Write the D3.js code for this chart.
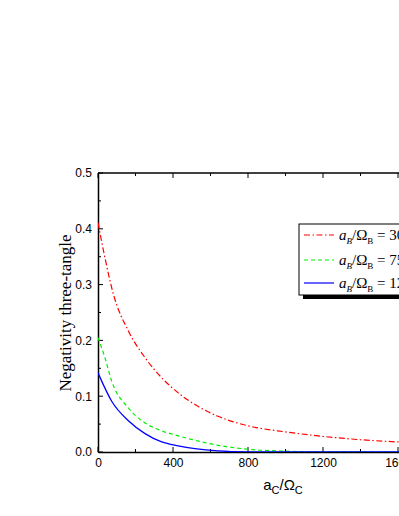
<!DOCTYPE html>
<html><head><meta charset="utf-8">
<script src="https://cdn.jsdelivr.net/npm/d3@7"></script>
<style>body{margin:0;background:#fff;}svg{display:block;}</style>
</head><body>
<script>
const xTicks = [0, 400, 800, 1200, 1600, 2000];
const yTicks = [0.0, 0.1, 0.2, 0.3, 0.4, 0.5];
const seriesLabels = ["300", "750", "1200"];
const seriesColors = ["#ff0000", "#00ee00", "#0000ff"];
const xs = [0, 37, 82, 162, 251, 340, 428, 517, 640, 800, 1000, 1200, 1400, 1600, 1800, 2000];
const redVals = [0.411, 0.348, 0.283, 0.217, 0.169, 0.133, 0.106, 0.085, 0.064, 0.047, 0.036, 0.028, 0.022, 0.018, 0.015, 0.013];
const greenX = [0, 37, 73, 162, 251, 340, 428, 517, 640, 800, 1000, 1200, 1600, 2000];
const greenVals = [0.205, 0.169, 0.127, 0.079, 0.052, 0.038, 0.029, 0.021, 0.012, 0.005, 0.0015, 0.0003, 0, 0];
const blueX = [0, 73, 162, 251, 340, 428, 517, 640, 800, 1000, 1600, 2000];
const blueVals = [0.142, 0.091, 0.056, 0.033, 0.018, 0.011, 0.006, 0.002, 0.0003, 0, 0, 0];

(function(){
const W = 399, H = 516;
const svg = d3.select("body").append("svg").attr("width", W).attr("height", H);
const pLeft = 98, pTop = 173, pBottom = 452;
const x = d3.scaleLinear().domain([0, 2000]).range([pLeft, pLeft + 375]);
const y = d3.scaleLinear().domain([0, 0.5]).range([pBottom, pTop]);

const g = svg.append("g");
const tickFont = "Liberation Sans, Arial, sans-serif";
const xAxis = d3.axisBottom(x).tickValues(xTicks).tickSize(0).tickPadding(6).tickFormat(d3.format("d"));
const xa = g.append("g").attr("transform", `translate(0,${pBottom})`).call(xAxis);
xa.select(".domain").attr("stroke", "#000").attr("stroke-width", 1.5);
xa.selectAll("text").attr("font-family", tickFont).attr("font-size", 12).attr("fill", "#000");

const yAxis = d3.axisLeft(y).tickValues(yTicks).tickSize(0).tickPadding(6).tickFormat(d3.format(".1f"));
const ya = g.append("g").attr("transform", `translate(${pLeft},0)`).call(yAxis);
ya.select(".domain").attr("stroke", "#000").attr("stroke-width", 1.5);
ya.selectAll("text").attr("font-family", tickFont).attr("font-size", 12).attr("fill", "#000");

g.append("line").attr("x1", pLeft).attr("x2", x(2000)).attr("y1", pTop).attr("y2", pTop).attr("stroke", "#000").attr("stroke-width", 1.5);

const xMinor = d3.range(0, 2001, 200);
xMinor.forEach(v => {
  const major = v % 400 === 0;
  const len = major ? 5 : 3;
  g.append("line").attr("x1", x(v)).attr("x2", x(v)).attr("y1", pBottom).attr("y2", pBottom - len).attr("stroke", "#000").attr("stroke-width", 1);
  g.append("line").attr("x1", x(v)).attr("x2", x(v)).attr("y1", pTop).attr("y2", pTop + len).attr("stroke", "#000").attr("stroke-width", 1);
});
const yMinor = d3.range(0, 11).map(i => i * 0.05);
yMinor.forEach((v, i) => {
  const len = i % 2 === 0 ? 5 : 3;
  g.append("line").attr("x1", pLeft).attr("x2", pLeft + len).attr("y1", y(v)).attr("y2", y(v)).attr("stroke", "#000").attr("stroke-width", 1);
});

const line = d3.line().x(d => x(d[0])).y(d => y(d[1])).curve(d3.curveMonotoneX);
svg.append("clipPath").attr("id", "c").append("rect").attr("x", pLeft).attr("y", pTop).attr("width", 375).attr("height", pBottom - pTop);
const curves = svg.append("g").attr("clip-path", "url(#c)");
curves.append("path").datum(xs.map((v, i) => [v, redVals[i]])).attr("d", line)
  .attr("fill", "none").attr("stroke", seriesColors[0]).attr("stroke-width", 1.2).attr("stroke-dasharray", "6,2.5,1.5,2.5");
curves.append("path").datum(greenX.map((v, i) => [v, greenVals[i]])).attr("d", line)
  .attr("fill", "none").attr("stroke", seriesColors[1]).attr("stroke-width", 1.2).attr("stroke-dasharray", "4,3");
curves.append("path").datum(blueX.map((v, i) => [v, blueVals[i]])).attr("d", line)
  .attr("fill", "none").attr("stroke", seriesColors[2]).attr("stroke-width", 1.3);

const serif = "Liberation Serif, Times New Roman, serif";
svg.append("text").attr("transform", `translate(71,313) rotate(-90)`).attr("text-anchor", "middle")
  .attr("font-family", serif).attr("font-size", 17).text("Negativity three-tangle");
const xt = svg.append("text").attr("x", 283).attr("y", 490).attr("text-anchor", "middle")
  .attr("font-family", tickFont).attr("font-size", 15);
xt.append("tspan").text("a");
xt.append("tspan").attr("font-size", 11).attr("dy", 4).text("C");
xt.append("tspan").attr("dy", -4).text("/Ω");
xt.append("tspan").attr("font-size", 11).attr("dy", 4).text("C");

const lx = 299, ly = 224, lw = 130, lh = 71;
svg.append("rect").attr("x", lx + 4).attr("y", ly + 4).attr("width", lw).attr("height", lh).attr("fill", "#000");
svg.append("rect").attr("x", lx).attr("y", ly).attr("width", lw).attr("height", lh).attr("fill", "#fff").attr("stroke", "#000").attr("stroke-width", 1);
const dashes = ["6,2.5,1.5,2.5", "4,3", null];
const rowsY = [235, 260, 283];
seriesLabels.forEach((lab, i) => {
  const yy = rowsY[i];
  const l = svg.append("line").attr("x1", lx + 5).attr("x2", lx + 35).attr("y1", yy).attr("y2", yy)
    .attr("stroke", seriesColors[i]).attr("stroke-width", 1.2);
  if (dashes[i]) l.attr("stroke-dasharray", dashes[i]);
  const t = svg.append("text").attr("x", lx + 40).attr("y", yy + 5).attr("font-family", serif).attr("font-size", 15);
  t.append("tspan").attr("font-style", "italic").text("a");
  t.append("tspan").attr("font-style", "italic").attr("font-size", 9).attr("dy", 4).text("B");
  t.append("tspan").attr("dy", -4).text("/Ω");
  t.append("tspan").attr("font-size", 9).attr("dy", 4).text("B");
  t.append("tspan").attr("dy", -4).text(" = " + lab);
});
})();
</script>
</body></html>
